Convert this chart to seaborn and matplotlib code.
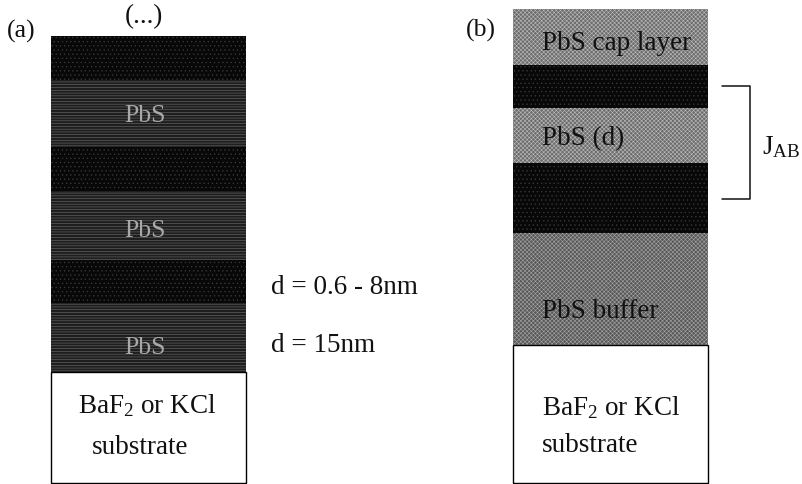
import matplotlib

matplotlib.use("Agg")

import matplotlib.pyplot as plt
import seaborn as sns

sns.set_style("white")
plt.rcParams["font.family"] = ["Liberation Serif", "DejaVu Serif"]
plt.rcParams["mathtext.fontset"] = "custom"
plt.rcParams["mathtext.rm"] = "Liberation Serif"
plt.rcParams["mathtext.default"] = "rm"
plt.rcParams["hatch.linewidth"] = 0.4

# layer stacks, top to bottom (pixels on the page)
stack_a_kind = ["dark", "pbs_a", "dark", "pbs_a", "dark", "pbs_a", "substrate"]
stack_a_tops = [36, 80, 147, 191, 260, 303, 372]
stack_a_heights = [44, 67, 44, 69, 43, 69, 111]

stack_b_kind = ["pbs_b", "dark", "pbs_b", "dark", "pbs_c", "substrate"]
stack_b_tops = [9, 65, 108, 163, 233, 345]
stack_b_heights = [56, 43, 55, 70, 112, 138]

STYLES = {
    "dark": dict(color="#080808", edgecolor="#3c3c3c", hatch="....", linewidth=0),
    "pbs_a": dict(color="#1e1e1e", edgecolor="#6e6e6e", hatch="------", linewidth=0),
    "pbs_b": dict(color="#6c6c6c", edgecolor="#bcbcbc", hatch="xxxxxxxx", linewidth=0),
    "pbs_c": dict(color="#585858", edgecolor="#a4a4a4", hatch="xxxxxxxx", linewidth=0),
    "substrate": dict(color="white", edgecolor="black", linewidth=1.0),
}


def draw_stack(ax, center, kinds, tops, heights):
    for kind, top, height in zip(kinds, tops, heights):
        sns.barplot(
            x=[center], y=[height], bottom=top, width=195,
            native_scale=True, saturation=1, ax=ax, **STYLES[kind],
        )


fig = plt.figure(figsize=(8.03, 4.84), dpi=100)
ax = fig.add_axes([0, 0, 1, 1])

draw_stack(ax, 148.5, stack_a_kind, stack_a_tops, stack_a_heights)
draw_stack(ax, 610.5, stack_b_kind, stack_b_tops, stack_b_heights)

ax.set_xlim(0, 803)
ax.set_ylim(484, 0)
ax.set_axis_off()

# J_AB bracket
ax.plot([722, 750, 750, 722], [86, 86, 199, 199], color="#111111", lw=1.1)


def label(x, y, text, size=19.5, color="#111111", ha="left"):
    ax.text(x, y + 1, text, fontsize=size, color=color, ha=ha, va="center")


label(7, 30, "(a)", size=18.5)
label(466, 29, "(b)", size=18.5)
label(144, 16, "(...)", ha="center")

for y in (115, 230, 347):
    label(145, y, "PbS", size=18.5, color="#a8a8a8", ha="center")

label(78, 405, "BaF$_2$ or KCl")
label(92, 447, "substrate")
label(271, 287, "d = 0.6 - 8nm")
label(271, 345, "d = 15nm")

label(542, 43, "PbS cap layer", color="#111111")
label(542, 138, "PbS (d)", color="#111111")
label(542, 310, "PbS buffer", color="#111111")
label(542, 407, "BaF$_2$ or KCl")
label(542, 445, "substrate")
label(762, 146, "J$_{\\mathrm{AB}}$")

fig.savefig("out.png", dpi=100)
